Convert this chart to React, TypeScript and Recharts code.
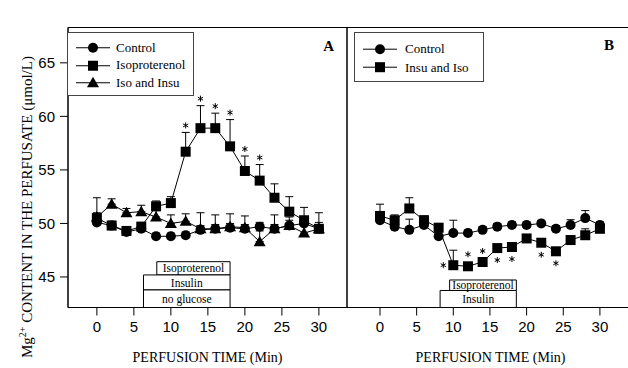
import React from "react";
import {
  LineChart,
  Line,
  XAxis,
  YAxis,
  ErrorBar,
  ReferenceArea,
  Legend,
  LabelList,
} from "recharts";

// sampling times (min)
const times = [0, 2, 4, 6, 8, 10, 12, 14, 16, 18, 20, 22, 24, 26, 28, 30];
const xTicks = [0, 5, 10, 15, 20, 25, 30];
const yTicks = [45, 50, 55, 60, 65];

// panel A
const controlA = [50.1, 49.8, 49.2, 49.5, 48.8, 48.8, 48.9, 49.4, 49.5, 49.6, 49.5, 49.7, 49.5, 49.8, 50.0, 49.5];
const controlAErr = [0.4, 0.4, 0.3, 0.4, 0.3, 0.3, 0.3, 0.4, 0.4, 0.4, 0.4, 0.4, 0.4, 0.5, 0.5, 0.4];
const isoA = [50.5, 49.8, 49.3, 49.7, 51.6, 51.9, 56.7, 58.9, 58.9, 57.2, 54.9, 54.0, 52.4, 51.1, 50.3, 49.5];
const isoAErr = [0.5, 0.4, 0.4, 0.4, 0.5, 0.6, 1.8, 2.1, 1.4, 2.5, 1.4, 1.5, 1.3, 1.4, 1.2, 1.5];
const isoInsuA = [50.6, 51.8, 51.0, 51.1, 50.6, 50.0, 50.2, 49.5, 49.5, 49.7, 49.6, 48.3, 49.5, 49.8, 49.1, 49.5];
const isoInsuAErr = [1.8, 0.5, 0.4, 0.6, 0.6, 0.8, 0.7, 1.5, 1.3, 1.2, 1.1, 1.0, 1.3, 0.8, 0.8, 0.6];
const isoASig = [0, 0, 0, 0, 0, 0, 1, 1, 1, 1, 1, 1, 0, 0, 0, 0];

// panel B
const controlB = [50.3, 49.7, 49.4, 49.85, 48.8, 49.1, 49.1, 49.4, 49.7, 49.85, 49.85, 50.0, 49.5, 49.85, 50.5, 49.85];
const controlBErr = [0.6, 0.4, 1.0, 0.4, 0.4, 1.2, 0.3, 0.3, 0.3, 0.3, 0.3, 0.3, 0.3, 0.5, 0.7, 0.3];
const insuIsoB = [50.7, 50.3, 51.4, 50.3, 49.6, 46.1, 46.0, 46.4, 47.7, 47.8, 48.6, 48.2, 47.4, 48.45, 48.9, 49.5];
const insuIsoBErr = [1.1, 0.5, 1.0, 0.4, 0.4, 1.4, 0.3, 0.3, 0.3, 0.3, 0.3, 0.3, 0.3, 0.3, 0.6, 0.3];
const insuIsoBSig = [0, 0, 0, 0, 0, 1, 1, 1, 1, 1, 0, 1, 1, 0, 0, 0];

// treatment periods (min)
const treatNamesA = ["Isoproterenol", "Insulin", "no glucose"];
const treatStartA = [8.1, 6.3, 6.3];
const treatEndA = [18, 18, 18];
const treatNamesB = ["Isoproterenol", "Insulin"];
const treatStartB = [9.5, 8.2];
const treatEndB = [18.6, 18.6];

const SERIF = '"Liberation Serif", "Times New Roman", serif';
const SANS = '"Liberation Sans", Arial, sans-serif';

const Y_MIN = 42.15;
const Y_MAX = 68.3;
const X_DOMAIN_A: [number, number] = [-3.9, 33.8];
const X_DOMAIN_B: [number, number] = [-4.5, 34.65];

// stacked box rows below the curves
const boxRowsA: [number, number][] = [[46.43, 45.19], [45.19, 43.79], [43.79, Y_MIN]];
const boxRowsB: [number, number][] = [[44.72, 43.74], [43.74, Y_MIN]];

// where the asterisk sits relative to the square in panel B
const starOffsetB: Record<number, [number, number]> = {
  10: [-10, 0],
  12: [0, -12],
  14: [0, -11],
  16: [0, 12],
  18: [0, 12],
  22: [0, 12],
  24: [0, 12],
};

const legendOrder = ["control", "iso", "isoInsu", "insuIso"];

const rowsA = times.map((t, i) => ({
  t,
  control: controlA[i],
  controlErr: [0, controlAErr[i]],
  iso: isoA[i],
  isoErr: [0, isoAErr[i]],
  isoInsu: isoInsuA[i],
  isoInsuErr: [0, isoInsuAErr[i]],
  isoTop: isoASig[i] ? isoA[i] + isoAErr[i] : null,
}));

const rowsB = times.map((t, i) => ({
  t,
  control: controlB[i],
  controlErr: [0, controlBErr[i]],
  insuIso: insuIsoB[i],
  insuIsoErr: [0, insuIsoBErr[i]],
}));

type Shape = "circle" | "square" | "triangle";

const Marker = ({ cx, cy, shape }: { cx?: number; cy?: number; shape: Shape }) => {
  if (cx == null || cy == null) return null;
  if (shape === "circle") return <circle cx={cx} cy={cy} r={5} fill="#000" />;
  if (shape === "square") return <rect x={cx - 5} y={cy - 5} width={10} height={10} fill="#000" />;
  return (
    <polygon
      points={`${cx},${cy - 6} ${cx + 6},${cy + 4.5} ${cx - 6},${cy + 4.5}`}
      fill="#000"
    />
  );
};

const dotOf = (shape: Shape) => (p: any) => (
  <Marker key={`${shape}-${p.index}`} cx={p.cx} cy={p.cy} shape={shape} />
);

const shapeByKey: Record<string, Shape> = {
  control: "circle",
  iso: "square",
  isoInsu: "triangle",
  insuIso: "square",
};

// small six-armed significance mark
const Asterisk = ({ x, y }: { x: number; y: number }) => (
  <g stroke="#000" strokeWidth={1}>
    <line x1={x} y1={y - 3} x2={x} y2={y + 3} />
    <line x1={x - 2.6} y1={y - 1.5} x2={x + 2.6} y2={y + 1.5} />
    <line x1={x - 2.6} y1={y + 1.5} x2={x + 2.6} y2={y - 1.5} />
  </g>
);

const LegendBox = ({ payload, rowH, padTop, textLeft }: any) => {
  const items = (payload || [])
    .filter((e: any) => e.type !== "none")
    .sort((a: any, b: any) => legendOrder.indexOf(a.dataKey) - legendOrder.indexOf(b.dataKey));
  return (
    <div
      style={{
        boxSizing: "border-box",
        width: "100%",
        height: "100%",
        border: "1px solid #444",
        background: "#fff",
        paddingTop: padTop,
        fontFamily: SERIF,
        fontSize: 13,
        color: "#000",
      }}
    >
      {items.map((e: any) => (
        <div key={e.value} style={{ height: rowH, display: "flex", alignItems: "center" }}>
          <svg width={textLeft} height={rowH} style={{ flex: "none" }}>
            <line x1={8} x2={42} y1={rowH / 2} y2={rowH / 2} stroke="#000" strokeWidth={1} />
            <Marker cx={25} cy={rowH / 2} shape={shapeByKey[e.dataKey]} />
          </svg>
          <span>{e.value}</span>
        </div>
      ))}
    </div>
  );
};

const StarAbove = (props: any) => {
  const x = props.x ?? props.viewBox?.x;
  const y = props.y ?? props.viewBox?.y;
  if (props.value == null || x == null) return null;
  return <Asterisk x={x} y={y - 7} />;
};

const StarB = (props: any) => {
  const x = props.x ?? props.viewBox?.x;
  const y = props.y ?? props.viewBox?.y;
  const off = starOffsetB[times[props.index]];
  if (!insuIsoBSig[props.index] || !off || x == null) return null;
  return <Asterisk x={x + off[0]} y={y + off[1]} />;
};

const YTitle = () => (
  <text
    x={32}
    y={358}
    transform="rotate(-90 32 358)"
    fontFamily={SERIF}
    fontSize={15}
    fill="#000"
  >
    Mg<tspan dy={-6} fontSize={10}>2+</tspan>
    <tspan dy={6}> CONTENT IN THE PERFUSATE (μmol/L)</tspan>
  </text>
);

const tickStyle = { fontSize: 15, fontFamily: SANS, fill: "#000" };
const titleStyle = { fontSize: 14, fontFamily: SERIF, fill: "#000" };
const cornerStyle = { fontSize: 15, fontFamily: SERIF, fontWeight: "bold", fill: "#000" };
const boxLabel = (value: string) => ({
  value,
  position: "center" as const,
  fontSize: 11.5,
  fontFamily: SERIF,
  fill: "#000",
});

const PanelA = () => (
  <LineChart
    width={348}
    height={368}
    data={rowsA}
    margin={{ top: 27.5, right: 1, bottom: 0, left: 8 }}
  >
    <XAxis
      dataKey="t"
      type="number"
      domain={X_DOMAIN_A}
      ticks={xTicks}
      allowDataOverflow
      height={60.5}
      tickSize={8}
      tickMargin={6}
      tick={tickStyle}
      stroke="#000"
      label={{ value: "PERFUSION TIME (Min)", position: "insideBottom", offset: 6, style: titleStyle }}
    />
    <YAxis
      type="number"
      domain={[Y_MIN, Y_MAX]}
      ticks={yTicks}
      allowDataOverflow
      width={60}
      tickSize={8}
      tickMargin={5}
      tick={tickStyle}
      stroke="#000"
      label={{ content: YTitle }}
    />
    {/* plot frame */}
    <ReferenceArea
      x1={X_DOMAIN_A[0]}
      x2={X_DOMAIN_A[1]}
      y1={Y_MIN}
      y2={Y_MAX}
      fill="none"
      stroke="#000"
      strokeWidth={1}
      label={{ value: "A", position: "insideTopRight", offset: 13, style: cornerStyle }}
    />
    {treatNamesA.map((name, i) => (
      <ReferenceArea
        key={name}
        x1={treatStartA[i]}
        x2={treatEndA[i]}
        y1={boxRowsA[i][1]}
        y2={boxRowsA[i][0]}
        fill="#fff"
        fillOpacity={1}
        stroke="#000"
        strokeWidth={1}
        label={boxLabel(name)}
      />
    ))}
    <Legend
      layout="horizontal"
      align="center"
      verticalAlign="middle"
      wrapperStyle={{ left: 67, top: 32, width: 127, height: 64 }}
      content={(p: any) => <LegendBox {...p} rowH={17.5} padTop={6} textLeft={48} />}
    />
    <Line
      dataKey="control"
      name="Control"
      stroke="#000"
      strokeWidth={1}
      dot={dotOf("circle")}
      activeDot={false}
      isAnimationActive={false}
    >
      <ErrorBar dataKey="controlErr" direction="y" width={4} stroke="#000" strokeWidth={1} />
    </Line>
    <Line
      dataKey="iso"
      name="Isoproterenol"
      stroke="#000"
      strokeWidth={1}
      dot={dotOf("square")}
      activeDot={false}
      isAnimationActive={false}
    >
      <ErrorBar dataKey="isoErr" direction="y" width={4} stroke="#000" strokeWidth={1} />
    </Line>
    <Line
      dataKey="isoInsu"
      name="Iso and Insu"
      stroke="#000"
      strokeWidth={1}
      dot={dotOf("triangle")}
      activeDot={false}
      isAnimationActive={false}
    >
      <ErrorBar dataKey="isoInsuErr" direction="y" width={4} stroke="#000" strokeWidth={1} />
    </Line>
    <Line
      dataKey="isoTop"
      stroke="none"
      dot={false}
      activeDot={false}
      legendType="none"
      isAnimationActive={false}
    >
      <LabelList dataKey="isoTop" content={StarAbove} />
    </Line>
  </LineChart>
);

const PanelB = () => (
  <LineChart
    width={295}
    height={368}
    data={rowsB}
    margin={{ top: 27.5, right: 0, bottom: 0, left: 8 }}
  >
    <XAxis
      dataKey="t"
      type="number"
      domain={X_DOMAIN_B}
      ticks={xTicks}
      allowDataOverflow
      height={60.5}
      tickSize={8}
      tickMargin={6}
      tick={tickStyle}
      stroke="#000"
      label={{ value: "PERFUSION TIME (Min)", position: "insideBottom", offset: 6, style: titleStyle }}
    />
    <YAxis
      type="number"
      domain={[Y_MIN, Y_MAX]}
      allowDataOverflow
      width={0}
      tick={false}
      tickLine={false}
      stroke="#000"
    />
    <ReferenceArea
      x1={X_DOMAIN_B[0]}
      x2={X_DOMAIN_B[1]}
      y1={Y_MIN}
      y2={Y_MAX}
      fill="none"
      stroke="#000"
      strokeWidth={1}
    />
    {treatNamesB.map((name, i) => (
      <ReferenceArea
        key={name}
        x1={treatStartB[i]}
        x2={treatEndB[i]}
        y1={boxRowsB[i][1]}
        y2={boxRowsB[i][0]}
        fill="#fff"
        fillOpacity={1}
        stroke="#000"
        strokeWidth={1}
        label={boxLabel(name)}
      />
    ))}
    <Legend
      layout="horizontal"
      align="center"
      verticalAlign="middle"
      wrapperStyle={{ left: 15, top: 32, width: 130, height: 50 }}
      content={(p: any) => <LegendBox {...p} rowH={18.4} padTop={7} textLeft={50} />}
    />
    <Line
      dataKey="control"
      name="Control"
      stroke="#000"
      strokeWidth={1}
      dot={dotOf("circle")}
      activeDot={false}
      isAnimationActive={false}
    >
      <ErrorBar dataKey="controlErr" direction="y" width={4} stroke="#000" strokeWidth={1} />
    </Line>
    <Line
      dataKey="insuIso"
      name="Insu and Iso"
      stroke="#000"
      strokeWidth={1}
      dot={dotOf("square")}
      activeDot={false}
      isAnimationActive={false}
    >
      <ErrorBar dataKey="insuIsoErr" direction="y" width={4} stroke="#000" strokeWidth={1} />
      <LabelList dataKey="insuIso" content={StarB} />
    </Line>
  </LineChart>
);

export default function App() {
  return (
    <div
      style={{
        position: "absolute",
        left: 0,
        top: 0,
        width: 628,
        height: 368,
        overflow: "hidden",
        background: "#fff",
      }}
    >
      <div style={{ position: "absolute", left: 0, top: 0 }}>
        <PanelA />
      </div>
      <div style={{ position: "absolute", left: 339, top: 0 }}>
        <PanelB />
      </div>
      {/* corner letter for the right panel */}
      <div
        style={{
          position: "absolute",
          left: 604,
          top: 38,
          fontFamily: SERIF,
          fontWeight: "bold",
          fontSize: 15,
          lineHeight: "15px",
        }}
      >
        B
      </div>
    </div>
  );
}
